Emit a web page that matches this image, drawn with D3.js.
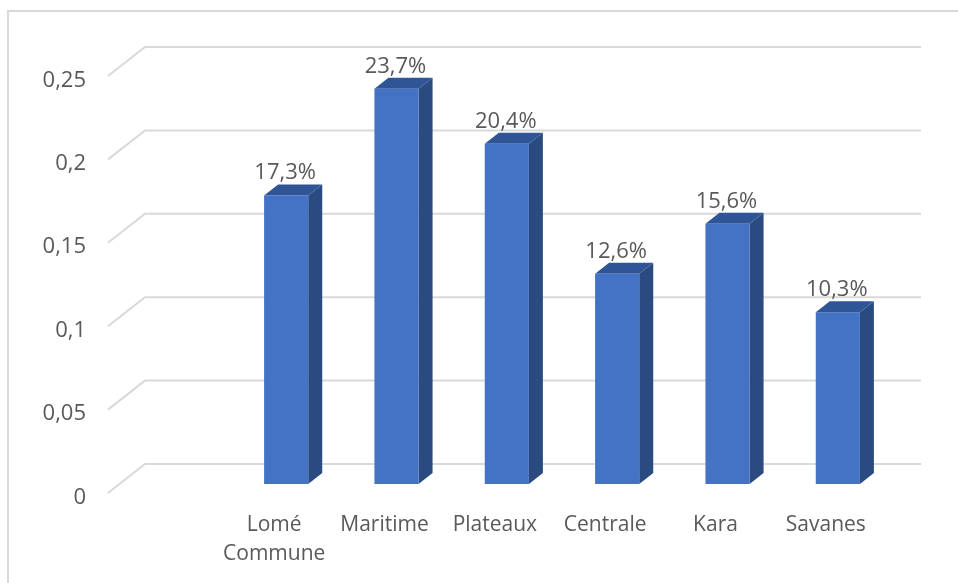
<!DOCTYPE html>
<html>
<head>
<meta charset="utf-8">
<script src="https://cdn.jsdelivr.net/npm/d3@7/dist/d3.min.js"></script>
<style>
    html, body { margin: 0; padding: 0; background: #fff; overflow: hidden; }
    svg { filter: blur(0.4px); }
    text { font-family: "Open Sans", "Noto Sans", sans-serif; fill: #595959; }
</style>
</head>
<body>
<div id="container"></div>
<script>
//chart values
var categories = ["Lomé Commune", "Maritime", "Plateaux", "Centrale", "Kara", "Savanes"];
var values = [0.173, 0.237, 0.204, 0.126, 0.156, 0.103];
var valueLabels = ["17,3%", "23,7%", "20,4%", "12,6%", "15,6%", "10,3%"];
var yTicks = [0, 0.05, 0.1, 0.15, 0.2, 0.25];

(function(){
    //frame dimensions
    var width = 958,
        height = 583;

    //3d offsets: wall sits behind the bars, bars have their own small depth
    var wallDx = 37, wallDy = 29, wallFront = 9,
        barDx = 14, barDy = 11,
        wallLeft = 108, wallRight = 921;

    var svg = d3.select("#container")
        .append("svg")
        .attr("width", width)
        .attr("height", height)
        .style("display", "block");

    //scales
    var x = d3.scaleBand()
        .domain(categories)
        .range([231, 893])
        .paddingInner(0.6)
        .paddingOuter(0.3);

    var y = d3.scaleLinear()
        .domain([0, 0.25])
        .range([484, 67]);

    //outer frame, only left and top show
    svg.append("path")
        .attr("d", "M8,583V11H958")
        .attr("fill", "none")
        .attr("stroke", "#d9d9d9")
        .attr("stroke-width", 2);

    //gridlines with the diagonal floor/wall part
    svg.selectAll(".grid")
        .data(yTicks)
        .enter()
        .append("path")
        .attr("class", "grid")
        .attr("fill", "none")
        .attr("stroke", "#d9d9d9")
        .attr("stroke-width", 2)
        .attr("d", function(d){
            var front = y(d) + wallFront;
            return "M" + wallLeft + "," + front +
                "L" + (wallLeft + wallDx) + "," + (front - wallDy) +
                "H" + wallRight;
        });

    //value axis, labels only
    var yAxis = d3.axisLeft(y)
        .tickValues(yTicks)
        .tickSize(0)
        .tickPadding(0)
        .tickFormat(function(d){ return String(d).replace(".", ","); });

    var yAxisG = svg.append("g")
        .attr("transform", "translate(86," + (wallFront + 3) + ")")
        .call(yAxis);
    yAxisG.select(".domain").remove();
    yAxisG.selectAll("text")
        .style("font-size", "22px")
        .attr("font-family", null);

    //category axis, labels only, wrapped on spaces
    var xAxis = d3.axisBottom(x).tickSize(0).tickPadding(0);

    var xAxisG = svg.append("g")
        .attr("transform", "translate(-12,511)")
        .call(xAxis);
    xAxisG.select(".domain").remove();
    xAxisG.selectAll("text")
        .style("font-size", "21px")
        .attr("font-family", null)
        .each(function(d){
            var label = d3.select(this).text(null).attr("dy", null).attr("y", 0);
            d.split(" ").forEach(function(word, i){
                label.append("tspan")
                    .attr("x", 0)
                    .attr("y", 20 + i * 29)
                    .text(word);
            });
        });

    //bars: side, top, front
    var bars = svg.selectAll(".bar")
        .data(values)
        .enter()
        .append("g")
        .attr("class", "bar");

    bars.append("path")
        .attr("fill", "#2a4a80")
        .attr("d", function(d, i){
            var right = x(categories[i]) + x.bandwidth();
            return "M" + right + "," + y(d) +
                "l" + barDx + "," + (-barDy) +
                "V" + (y(0) - barDy) +
                "l" + (-barDx) + "," + barDy + "Z";
        });

    bars.append("path")
        .attr("fill", "#2f5597")
        .attr("d", function(d, i){
            var left = x(categories[i]);
            return "M" + left + "," + y(d) +
                "l" + barDx + "," + (-barDy) +
                "h" + x.bandwidth() +
                "l" + (-barDx) + "," + barDy + "Z";
        });

    bars.append("rect")
        .attr("fill", "#4472c4")
        .attr("x", function(d, i){ return x(categories[i]); })
        .attr("y", function(d){ return y(d); })
        .attr("width", x.bandwidth())
        .attr("height", function(d){ return y(0) - y(d); });

    //data labels
    svg.selectAll(".value-label")
        .data(values)
        .enter()
        .append("text")
        .attr("class", "value-label")
        .attr("text-anchor", "middle")
        .style("font-size", "22px")
        .attr("x", function(d, i){ return x(categories[i]) + x.bandwidth() / 2 - 1; })
        .attr("y", function(d){ return y(d) - 16; })
        .text(function(d, i){ return valueLabels[i]; });
})();
</script>
</body>
</html>
